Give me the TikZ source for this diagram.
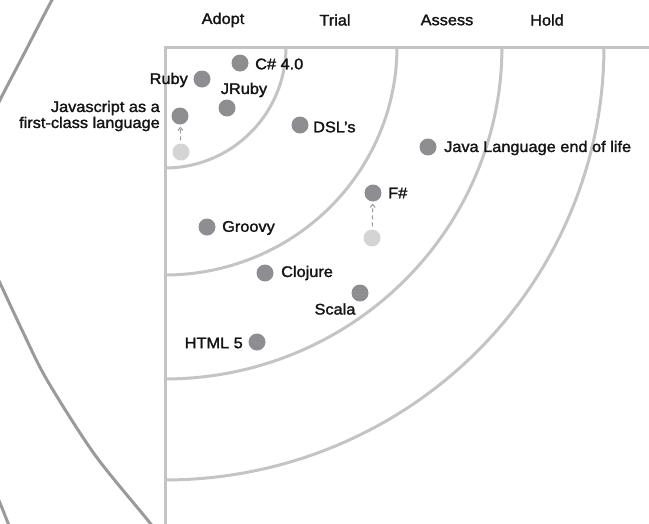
\documentclass[tikz,border=0pt]{standalone}
\usepackage{fontspec}
\setmainfont{Liberation Sans}[FakeStretch=1.06,FakeBold=1.7]
\usetikzlibrary{arrows.meta}
\definecolor{gridgray}{HTML}{C4C4C4}
\definecolor{arcgray}{HTML}{9A9A9A}
\definecolor{dotgray}{HTML}{8E8E92}
\definecolor{fadegray}{HTML}{D4D4D4}
\definecolor{ink}{HTML}{141414}
\begin{document}
\begin{tikzpicture}[x=1pt,y=-1pt,
  grid/.style={draw=gridgray,line width=3pt},
  outer/.style={draw=arcgray,line width=3pt},
  blip/.style={circle,fill=dotgray,minimum size=17pt,inner sep=0pt},
  faded/.style={circle,fill=fadegray,minimum size=17pt,inner sep=0pt},
  lbl/.style={font=\fontsize{15.4}{16}\selectfont,text=ink,inner sep=0pt},
  move/.style={draw=arcgray,line width=1pt,dash pattern=on 4pt off 3pt,
    shorten <=3pt,shorten >=2pt,-{Straight Barb[length=3pt,width=5pt]}}
]
\useasboundingbox (0,0) rectangle (649,523);
\begin{scope}
\clip (0,0) rectangle (649,523);
\draw[outer] plot[smooth] coordinates {(70,-30)(52,0)(26,50)(0,100)(-10,122)};
\draw[outer] plot[smooth] coordinates {(-10,262)(0,283)(22,330)(47,380)(95,455)(150,523)(165,545)};
\draw[outer] plot[smooth] coordinates {(-8,485)(0,503)(8,523)(12,533)};
\draw[grid] (165,540) -- (165,47) -- (660,47);
\draw[grid] plot[domain=0:90,samples=60] ({165+121*cos(\x)},{47+121*sin(\x)});
\draw[grid] plot[domain=0:90,samples=60] ({165+232*cos(\x)},{47+228*sin(\x)});
\draw[grid] plot[domain=0:90,samples=60] ({165+337*cos(\x)},{47+332*sin(\x)});
\draw[grid] plot[domain=0:90,samples=60] ({165+439*cos(\x)},{47+433*sin(\x)});
\end{scope}
% ring headers
\node[lbl] (hadopt) at (223,20) {Adopt};
\node[lbl] (htrial) at (335,20) {Trial};
\node[lbl] (hassess) at (447,20) {Assess};
\node[lbl] (hhold) at (547,20) {Hold};
% blips
\node[blip] (cs) at (240,63) {};
\node[lbl,anchor=west] (lcs) at (255,64) {C\# 4.0};
\node[blip] (ruby) at (202,79) {};
\node[lbl,anchor=east] (lruby) at (188,80) {Ruby};
\node[blip] (jruby) at (227,108) {};
\node[lbl] (ljruby) at (244,90) {JRuby};
\node[blip] (js) at (180,116) {};
\node[faded] (jsold) at (181,152) {};
\node[lbl,anchor=east,align=right] (ljs) at (160,116) {Javascript as a\\first-class language};
\draw[move] (jsold) -- (js);
\node[blip] (dsl) at (300,125) {};
\node[lbl,anchor=west] (ldsl) at (313,127) {DSL's};
\node[blip] (java) at (428,147) {};
\node[lbl,anchor=west] (ljava) at (444,148) {Java Language end of life};
\node[blip] (fs) at (373,193) {};
\node[faded] (fsold) at (372,238) {};
\node[lbl,anchor=west] (lfs) at (388,193) {F\#};
\draw[move] (fsold) -- (fs);
\node[blip] (groovy) at (207,227) {};
\node[lbl,anchor=west] (lgroovy) at (222,228) {Groovy};
\node[blip] (clojure) at (265,273) {};
\node[lbl,anchor=west] (lclojure) at (281,273) {Clojure};
\node[blip] (scala) at (360,293) {};
\node[lbl] (lscala) at (335,309) {Scala};
\node[blip] (html) at (257,342) {};
\node[lbl,anchor=east] (lhtml) at (243,343) {HTML 5};
\end{tikzpicture}
\end{document}
